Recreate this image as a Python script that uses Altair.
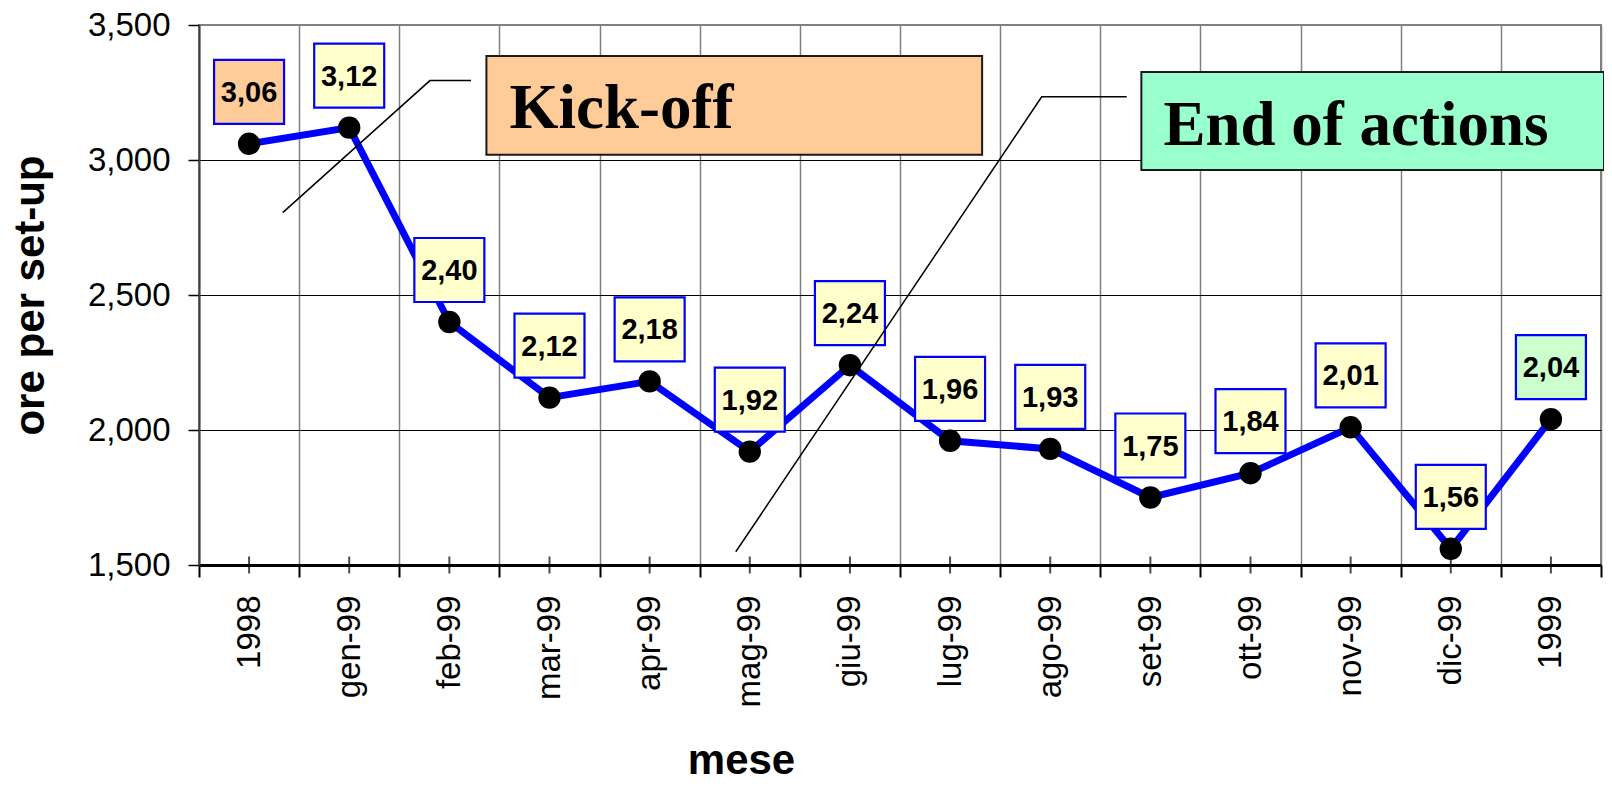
import altair as alt
import pandas as pd

# ---- data ----
months = ["1998", "gen-99", "feb-99", "mar-99", "apr-99", "mag-99", "giu-99",
          "lug-99", "ago-99", "set-99", "ott-99", "nov-99", "dic-99", "1999"]
hours = [3060, 3120, 2400, 2120, 2180, 1920, 2240, 1960, 1930, 1750, 1840, 2010, 1560, 2040]
value_labels = ["3,06", "3,12", "2,40", "2,12", "2,18", "1,92", "2,24",
                "1,96", "1,93", "1,75", "1,84", "2,01", "1,56", "2,04"]
label_fills = ["#FFCC99"] + ["#FFFFCC"] * 12 + ["#CCFFCC"]

# annotation boxes (x in month-slot units 0..14, y in data units)
note_texts = ["Kick-off", "End of actions"]
note_fills = ["#FFCC99", "#99FFCC"]
note_x = [2.87, 9.41]
note_x2 = [7.82, 14.03]
note_y = [3385, 3326]
note_y2 = [3019, 2963]
note_text_x = [3.1, 9.63]
note_text_y = [3118, 3056]

# callout leader lines
leader_id = ["a", "a", "a", "b", "b", "b"]
leader_ord = [0, 1, 2, 0, 1, 2]
leader_x = [0.836, 2.306, 2.716, 5.36, 8.415, 9.264]
leader_y = [2805, 3294, 3294, 1549, 3234, 3234]

df = pd.DataFrame({"mese": months, "val": hours, "lab": value_labels, "fill": label_fills})
notes = pd.DataFrame({"t": note_texts, "fill": note_fills, "x": note_x, "x2": note_x2,
                      "y": note_y, "y2": note_y2, "tx": note_text_x, "ty": note_text_y})
leaders = pd.DataFrame({"id": leader_id, "ord": leader_ord, "x": leader_x, "y": leader_y})

FONT = "Liberation Sans"
SERIF = "Liberation Serif"
YTITLE = "ore per set-up"

xenc = alt.X(
    "mese:N", sort=months,
    scale=alt.Scale(type="band", paddingInner=0, paddingOuter=0),
    axis=alt.Axis(
        tickBand="extent", grid=True, gridColor="#808080", gridWidth=1.5,
        tickColor="black", tickSize=12, tickWidth=2,
        domainColor="black", domainWidth=3,
        labelAngle=-90, labelFont=FONT, labelFontSize=33, labelColor="black", labelPadding=18,
        title="mese", titleFont=FONT, titleFontSize=42, titleFontWeight="bold", titleColor="black",
        titleX=542, titleY=208, titleBaseline="alphabetic", titleAlign="center",
    ),
)
yscale = alt.Scale(domain=[1500, 3500], nice=False, zero=False)
yenc = alt.Y(
    "val:Q", scale=yscale,
    axis=alt.Axis(
        values=[1500, 2000, 2500, 3000, 3500], format=",d",
        grid=True,
        gridColor=alt.condition("datum.value === 3500", alt.value("#808080"), alt.value("black")),
        gridWidth=1,
        domainColor="#404040", domainWidth=2,
        tickColor="black", tickSize=11, tickWidth=1.5,
        labelFont=FONT, labelFontSize=33, labelColor="black", labelPadding=18,
        title=YTITLE, titleFont=FONT, titleFontSize=42, titleFontWeight="bold", titleColor="black",
        titleX=-147, titleY=270, titleAngle=270, titleBaseline="bottom", titleAlign="center",
    ),
)

base = alt.Chart(df).encode(x=xenc, y=yenc)

center_ticks = alt.Chart(df).mark_tick(orient="vertical", color="black", size=17, thickness=2).encode(
    x=xenc, y=alt.datum(1500, scale=yscale)
)
line = base.mark_line(color="#0000FF", strokeWidth=7)
points = base.mark_point(filled=True, color="black", size=500, opacity=1)
boxes = base.mark_point(
    shape="M-1,-0.914L1,-0.914L1,0.914L-1,0.914Z", size=4900,
    stroke="#0000FF", strokeWidth=2.2, opacity=1, fillOpacity=1, yOffset=-52,
).encode(fill=alt.Fill("fill:N", scale=None))
texts = base.mark_text(
    font=FONT, fontWeight="bold", fontSize=29, color="black", yOffset=-51, baseline="middle"
).encode(text="lab:N")

main = alt.layer(center_ticks, line, points, boxes, texts)

xq = alt.Scale(domain=[0, 14], nice=False, zero=False)
note_rects = alt.Chart(notes).mark_rect(stroke="#1a1a1a", strokeWidth=2).encode(
    x=alt.X("x:Q", scale=xq, axis=None), x2="x2:Q",
    y=alt.Y("y:Q", scale=yscale, title=YTITLE), y2="y2:Q",
    fill=alt.Fill("fill:N", scale=None),
)
note_labels = alt.Chart(notes).mark_text(
    align="left", baseline="alphabetic", font=SERIF, fontWeight="bold", fontSize=63, color="black"
).encode(
    x=alt.X("tx:Q", scale=xq, axis=None),
    y=alt.Y("ty:Q", scale=yscale, title=YTITLE),
    text="t:N",
)
leader_lines = alt.Chart(leaders).mark_line(color="black", strokeWidth=1.5).encode(
    x=alt.X("x:Q", scale=xq, axis=None),
    y=alt.Y("y:Q", scale=yscale, title=YTITLE),
    detail="id:N", order="ord:Q",
)
annot = alt.layer(note_rects, note_labels, leader_lines)

chart = alt.layer(main, annot).resolve_scale(x="independent").properties(
    width=1402, height=540,
    autosize=alt.AutoSizeParams(type="none"),
    padding={"left": 191, "top": 17, "right": 3, "bottom": 213},
    background="white",
).configure_view(stroke="#808080", strokeWidth=2)

chart.save("out.html", embed_options={"renderer": "svg", "actions": False})
